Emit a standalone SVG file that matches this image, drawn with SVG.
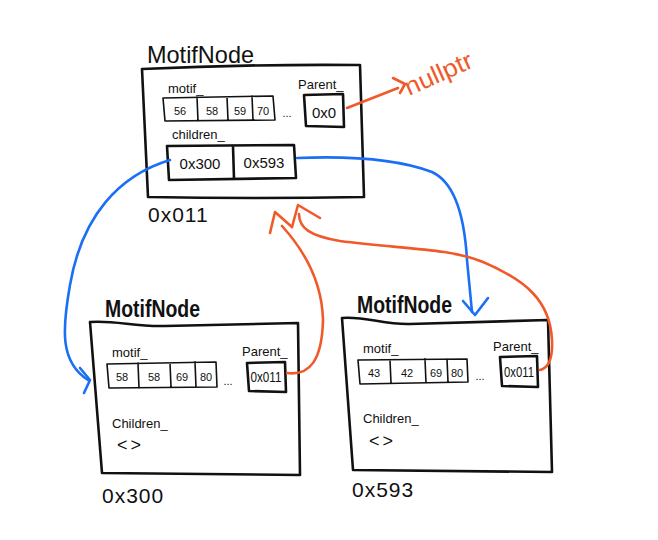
<svg xmlns="http://www.w3.org/2000/svg" width="658" height="540" viewBox="0 0 658 540">
<style>
.ln{fill:none;stroke:#111;stroke-width:2.6;stroke-linecap:round;stroke-linejoin:round}
.th{fill:none;stroke:#111;stroke-width:1.6;stroke-linecap:round;stroke-linejoin:round}
.bl{fill:none;stroke:#1a6ff5;stroke-width:2.6;stroke-linecap:round;stroke-linejoin:round}
.or{fill:none;stroke:#f05a2a;stroke-width:2.6;stroke-linecap:round;stroke-linejoin:round}
text{font-family:"Liberation Sans","DejaVu Sans",sans-serif;fill:#111}
.ttl{font-size:24px}
.lab{font-size:13px}
.val{font-size:11px;text-anchor:middle}
.ptr{font-size:15px;text-anchor:middle}
.adr{font-size:21px;letter-spacing:1px}
</style>
<rect width="658" height="540" fill="#fff"/>

<g id="node-0x011">
<text class="ttl" x="147" y="63" textLength="107" lengthAdjust="spacingAndGlyphs">MotifNode</text>
<path class="ln" d="M142,69 Q250,64 360,65 L364,197 Q255,199 148,197 Z"/>
<text class="lab" x="168" y="93">motif_</text>
<path class="th" d="M163,98 L273,96 L275,120 L165,121 Z M197,97 L198,121 M227,97 L228,120 M252,96 L253,120"/>
<text class="val" x="180" y="115">56</text>
<text class="val" x="212" y="115">58</text>
<text class="val" x="240" y="115">59</text>
<text class="val" x="263" y="115">70</text>
<text class="val" x="287" y="117">...</text>
<text class="lab" x="298" y="89" font-size="12">Parent_</text>
<path class="ln" d="M304,95 L343,94 L344,127 L306,126 Z"/>
<text class="ptr" x="324" y="118" font-size="18">0x0</text>
<text class="lab" x="172" y="139">children_</text>
<path class="ln" d="M167,146 L294,145 L296,178 L169,180 Z M233,146 L234,179"/>
<text class="ptr" x="200" y="169">0x300</text>
<text class="ptr" x="264" y="168">0x593</text>
<text class="adr" x="148" y="222">0x011</text>
</g>

<g id="node-0x300">
<text class="ttl" x="105" y="317" font-size="20" textLength="95" lengthAdjust="spacingAndGlyphs" font-weight="bold">MotifNode</text>
<path class="ln" d="M90,322 C115,320 135,327 165,326 L298,323 L300,475 L102,473 Z"/>
<text class="lab" x="112" y="357">motif_</text>
<path class="th" d="M107,364 L216,362 L217,387 L109,388 Z M138,363 L139,388 M170,363 L171,387 M195,362 L196,387"/>
<text class="val" x="122" y="381">58</text>
<text class="val" x="154" y="381">58</text>
<text class="val" x="182" y="381">69</text>
<text class="val" x="206" y="381">80</text>
<text class="val" x="228" y="385">...</text>
<text class="lab" x="242" y="356" font-size="12">Parent_</text>
<path class="ln" d="M247,363 L285,362 L286,392 L249,391 Z"/>
<text class="ptr" x="266" y="382" font-size="12" textLength="31" lengthAdjust="spacingAndGlyphs">0x011</text>
<text class="lab" x="112" y="428" font-size="15">Children_</text>
<text x="117" y="451" font-size="18" letter-spacing="3">&lt;&gt;</text>
<text class="adr" x="102" y="503">0x300</text>
</g>

<g id="node-0x593">
<text class="ttl" x="357" y="313" font-size="20" textLength="95" lengthAdjust="spacingAndGlyphs" font-weight="bold">MotifNode</text>
<path class="ln" d="M342,318 C365,316 385,325 410,324 L548,320 L552,472 L353,470 Z"/>
<text class="lab" x="363" y="353">motif_</text>
<path class="th" d="M358,360 L467,359 L468,382 L360,384 Z M390,360 L391,383 M425,359 L426,383 M447,359 L448,382"/>
<text class="val" x="374" y="377">43</text>
<text class="val" x="407" y="377">42</text>
<text class="val" x="436" y="377">69</text>
<text class="val" x="457" y="377">80</text>
<text class="val" x="480" y="380">...</text>
<text class="lab" x="493" y="351" font-size="12">Parent_</text>
<path class="ln" d="M500,357 L537,356 L538,387 L502,386 Z"/>
<text class="ptr" x="519" y="377" font-size="12" textLength="30" lengthAdjust="spacingAndGlyphs">0x011</text>
<text class="lab" x="363" y="423" font-size="15">Children_</text>
<text x="369" y="447" font-size="18" letter-spacing="3">&lt;&gt;</text>
<text class="adr" x="352" y="497">0x593</text>
</g>

<g id="connectors">
<path class="bl" d="M170,160 C120,175 82,215 70,285 C62,330 60,362 88,380"/>
<path class="bl" d="M80,368 L90,380 L84,393"/>
<path class="bl" d="M297,158 C345,156 395,158 432,172 C458,184 465,225 467,260 L472,312"/>
<path class="bl" d="M463,301 L475,315 L488,298"/>
<path class="or" d="M347,108 L398,88"/>
<path class="or" d="M393,78 L405,84 L400,93"/>
<text x="409" y="96" font-size="25" style="fill:#f05a2a" transform="rotate(-24 409 96)" textLength="72" lengthAdjust="spacingAndGlyphs">nullptr</text>
<path class="or" d="M287,373 C310,376 322,360 323,320 C322,280 302,248 282,226"/>
<path class="or" d="M270,233 L275,212 L292,227"/>
<path class="or" d="M292,227 L298,205 L320,218"/>
<path class="or" d="M299,214 C299,228 310,236 340,241 C400,249 450,248 483,262 C525,280 550,300 552,340 C553,360 548,368 540,370"/>
</g>
</svg>
